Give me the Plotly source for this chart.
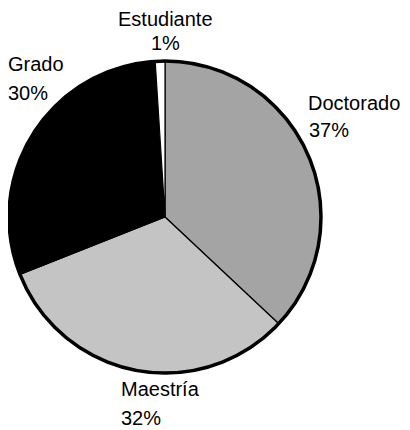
import plotly.graph_objects as go

labels = ["Doctorado", "Maestría", "Grado", "Estudiante"]
values = [37, 32, 30, 1]
pct_text = ["37%", "32%", "30%", "1%"]
colors = ["#a4a4a4", "#c4c4c4", "#000000", "#ffffff"]

OFF = 8  # page body margin in the browser
W, H = 410 - OFF, 430 - OFF
cx, cy, r = 165 - OFF, 217 - OFF, 156  # pixel centre / radius

fig = go.Figure(go.Pie(
    labels=labels, values=values, sort=False, direction="clockwise", rotation=0,
    marker=dict(colors=colors, line=dict(color="#000000", width=1.2)),
    textinfo="none", hoverinfo="label+percent", showlegend=False,
    domain=dict(x=[(cx - r) / W, (cx + r) / W], y=[(H - cy - r) / H, (H - cy + r) / H]),
))

# thick outer rim
fig.add_shape(type="circle", xref="paper", yref="paper",
              x0=(cx - r) / W, x1=(cx + r) / W,
              y0=(H - cy - r) / H, y1=(H - cy + r) / H,
              line=dict(color="#000000", width=3.5))

font = dict(family="Liberation Sans, Arial, sans-serif", size=20, color="#000000")
# label positions in screen pixels: (x, y, anchor) for name line and percent line
pos = {
    "Doctorado": ((307, 103, "left"), (308, 130, "left")),
    "Maestría": ((120, 389, "left"), (120, 418, "left")),
    "Grado": ((7, 64, "left"), (7, 93, "left")),
    "Estudiante": ((165, 19, "center"), (165, 43, "center")),
}
for lab, pct in zip(labels, pct_text):
    for txt, (x, yy, anc) in zip((lab, pct), pos[lab]):
        fig.add_annotation(x=(x - OFF) / W, y=1 - (yy - OFF) / H,
                           xref="paper", yref="paper", text=txt, showarrow=False,
                           xanchor=anc, yanchor="middle", font=font, borderpad=0)

fig.update_layout(width=W, height=H, margin=dict(l=0, r=0, t=0, b=0),
                  paper_bgcolor="white", plot_bgcolor="white")
fig.write_html("out.html")
